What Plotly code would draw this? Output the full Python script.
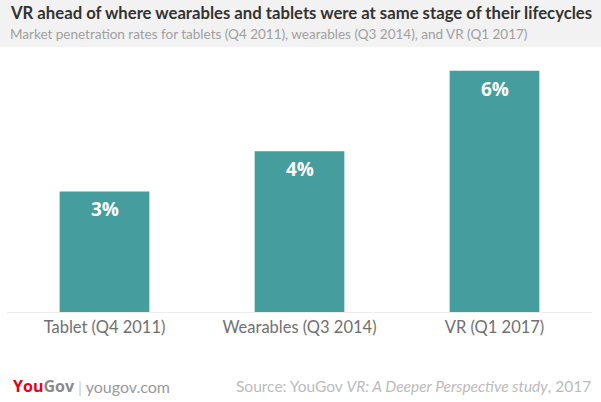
import plotly.graph_objects as go

categories = ["Tablet (Q4 2011)", "Wearables (Q3 2014)", "VR (Q1 2017)"]
values = [3, 4, 6]
labels = ["3%", "4%", "6%"]

W, H = 601, 402
BAR = "#459d9d"
FONT = "Lato"
L, R, T, B = 7, 9, 60, 89.5

fig = go.Figure(go.Bar(
    x=categories, y=values, marker=dict(color=BAR, line=dict(width=0)),
    hoverinfo="skip",
))

fig.update_layout(
    width=W, height=H,
    margin=dict(l=L, r=R, t=T, b=B, autoexpand=False),
    paper_bgcolor="white", plot_bgcolor="white",
    bargap=0.54, showlegend=False,
    xaxis=dict(showgrid=False, zeroline=False, showline=True, linecolor="#eeeeee",
               linewidth=1, ticks="", tickfont=dict(size=16.5, color="#707070", family=FONT),
               fixedrange=True),
    yaxis=dict(range=[0, 6.27], showgrid=False, zeroline=False, showticklabels=False,
               fixedrange=True),
    shapes=[dict(type="rect", xref="paper", yref="paper", x0=-0.1, x1=1.1,
                 y0=1 + (T - 47) / (H - T - B), y1=1.5, fillcolor="#f2f2f2",
                 line=dict(width=0), layer="below")],
)

def px_x(px):
    return (px - L) / (W - L - R)

def px_y(py):
    return (H - B - py) / (H - T - B)

ann = [
    dict(text="<b>VR ahead of where wearables and tablets were at same stage of their lifecycles</b>",
         x=px_x(8), y=px_y(12.5), xanchor="left", yanchor="middle",
         font=dict(size=16.7, color="#333333", family=FONT)),
    dict(text="Market penetration rates for tablets (Q4 2011), wearables (Q3 2014), and VR (Q1 2017)",
         x=px_x(8), y=px_y(34), xanchor="left", yanchor="middle",
         font=dict(size=13.5, color="#a0a0a0", family=FONT)),
    dict(text="<span style='color:#e3001b'><b>You</b></span><span style='color:#8a8a8a'><b>Gov</b></span>",
         x=px_x(11), y=px_y(387), xanchor="left", yanchor="middle",
         font=dict(size=16, family="Open Sans")),
    dict(text="<span style='color:#cccccc'>|</span> yougov.com",
         x=px_x(76), y=px_y(387), xanchor="left", yanchor="middle",
         font=dict(size=16, color="#9a9a9a", family=FONT)),
    dict(text="Source: YouGov <i>VR: A Deeper Perspective study</i>, 2017",
         x=px_x(593), y=px_y(387), xanchor="right", yanchor="middle",
         font=dict(size=15.5, color="#bbbbbb", family=FONT)),
]
for a in ann:
    a.update(xref="paper", yref="paper", showarrow=False)
for c, v, t in zip(categories, values, labels):
    ann.append(dict(text="<b>%s</b>" % t, x=c, y=v, xref="x", yref="y", yshift=-18,
                    xanchor="center", yanchor="middle", showarrow=False,
                    font=dict(size=19, color="white", family="Open Sans")))
fig.update_layout(annotations=ann)

fig.write_html("out.html", config={"displayModeBar": False},
               post_script="document.body.style.margin='0';document.body.style.overflow='hidden';")
